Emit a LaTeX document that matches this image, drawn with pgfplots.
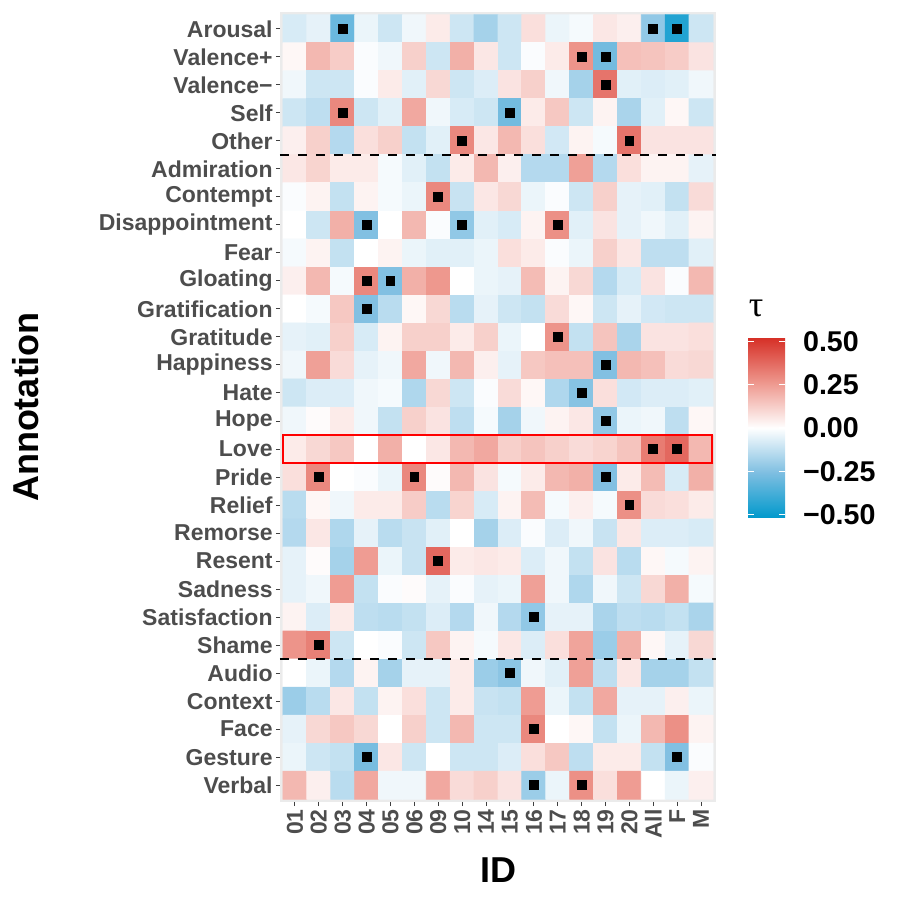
\documentclass[border=0pt]{standalone}
\usepackage{pgfplots}
\pgfplotsset{compat=1.18}
\usepackage{pgfplotstable}
\usepackage{fontspec}
\setmainfont{Liberation Sans}
\newfontfamily\greekserif{Liberation Serif}
\definecolor{lblgrey}{RGB}{77,77,77}
\definecolor{panelgrey}{RGB}{235,235,235}
\pgfplotstableread[row sep=\\]{
x y v\\
0 0 -0.08\\ 1 0 -0.05\\ 2 0 -0.30\\ 3 0 -0.04\\ 4 0 -0.10\\ 5 0 -0.03\\ 6 0 0.05\\ 7 0 -0.10\\ 8 0 -0.18\\ 9 0 -0.10\\ 10 0 0.08\\ 11 0 -0.04\\ 12 0 -0.02\\ 13 0 0.06\\ 14 0 0.04\\ 15 0 -0.22\\ 16 0 -0.45\\ 17 0 -0.10\\
0 1 0.02\\ 1 1 0.18\\ 2 1 0.13\\ 3 1 -0.01\\ 4 1 -0.03\\ 5 1 0.12\\ 6 1 -0.10\\ 7 1 0.20\\ 8 1 0.06\\ 9 1 -0.10\\ 10 1 -0.01\\ 11 1 0.05\\ 12 1 0.27\\ 13 1 -0.28\\ 14 1 0.16\\ 15 1 0.15\\ 16 1 0.13\\ 17 1 0.07\\
0 2 -0.03\\ 1 2 -0.10\\ 2 2 -0.10\\ 3 2 -0.01\\ 4 2 0.05\\ 5 2 -0.06\\ 6 2 0.10\\ 7 2 -0.10\\ 8 2 -0.07\\ 9 2 0.07\\ 10 2 0.12\\ 11 2 -0.03\\ 12 2 -0.18\\ 13 2 0.35\\ 14 2 -0.06\\ 15 2 -0.07\\ 16 2 -0.06\\ 17 2 -0.03\\
0 3 -0.10\\ 1 3 -0.13\\ 2 3 0.30\\ 3 3 -0.10\\ 4 3 -0.06\\ 5 3 0.22\\ 6 3 -0.03\\ 7 3 -0.08\\ 8 3 -0.10\\ 9 3 -0.28\\ 10 3 0.05\\ 11 3 0.14\\ 12 3 -0.10\\ 13 3 0.03\\ 14 3 -0.17\\ 15 3 -0.06\\ 16 3 0.02\\ 17 3 -0.10\\
0 4 0.04\\ 1 4 0.12\\ 2 4 -0.15\\ 3 4 0.08\\ 4 4 0.12\\ 5 4 -0.12\\ 6 4 -0.06\\ 7 4 0.30\\ 8 4 0.06\\ 9 4 0.18\\ 10 4 0.08\\ 11 4 -0.09\\ 12 4 0.03\\ 13 4 -0.02\\ 14 4 0.35\\ 15 4 0.07\\ 16 4 0.07\\ 17 4 0.07\\
0 5 0.06\\ 1 5 0.11\\ 2 5 0.05\\ 3 5 0.05\\ 4 5 -0.02\\ 5 5 -0.06\\ 6 5 -0.12\\ 7 5 0.05\\ 8 5 0.18\\ 9 5 0.04\\ 10 5 -0.15\\ 11 5 -0.15\\ 12 5 0.24\\ 13 5 -0.15\\ 14 5 0.08\\ 15 5 0.03\\ 16 5 0.03\\ 17 5 -0.05\\
0 6 -0.01\\ 1 6 0.03\\ 2 6 -0.12\\ 3 6 0.03\\ 4 6 -0.02\\ 5 6 -0.04\\ 6 6 0.30\\ 7 6 -0.11\\ 8 6 0.06\\ 9 6 0.10\\ 10 6 -0.04\\ 11 6 -0.01\\ 12 6 -0.10\\ 13 6 0.12\\ 14 6 -0.05\\ 15 6 -0.06\\ 16 6 -0.12\\ 17 6 0.09\\
0 7 0.00\\ 1 7 -0.10\\ 2 7 0.20\\ 3 7 -0.25\\ 4 7 0.00\\ 5 7 0.18\\ 6 7 -0.01\\ 7 7 -0.22\\ 8 7 -0.06\\ 9 7 -0.08\\ 10 7 0.03\\ 11 7 0.28\\ 12 7 -0.06\\ 13 7 0.07\\ 14 7 -0.05\\ 15 7 -0.03\\ 16 7 -0.06\\ 17 7 0.03\\
0 8 -0.02\\ 1 8 0.03\\ 2 8 -0.12\\ 3 8 0.00\\ 4 8 0.03\\ 5 8 -0.04\\ 6 8 -0.06\\ 7 8 -0.06\\ 8 8 -0.04\\ 9 8 0.08\\ 10 8 0.05\\ 11 8 -0.01\\ 12 8 -0.04\\ 13 8 0.12\\ 14 8 0.06\\ 15 8 -0.13\\ 16 8 -0.13\\ 17 8 -0.06\\
0 9 0.04\\ 1 9 0.18\\ 2 9 -0.02\\ 3 9 0.30\\ 4 9 -0.25\\ 5 9 0.20\\ 6 9 0.26\\ 7 9 0.00\\ 8 9 -0.04\\ 9 9 -0.05\\ 10 9 0.17\\ 11 9 0.03\\ 12 9 0.10\\ 13 9 -0.15\\ 14 9 -0.08\\ 15 9 0.07\\ 16 9 -0.01\\ 17 9 0.18\\
0 10 0.00\\ 1 10 -0.02\\ 2 10 0.14\\ 3 10 -0.25\\ 4 10 -0.14\\ 5 10 0.02\\ 6 10 0.10\\ 7 10 -0.14\\ 8 10 -0.05\\ 9 10 -0.10\\ 10 10 -0.12\\ 11 10 0.09\\ 12 10 0.02\\ 13 10 -0.10\\ 14 10 -0.05\\ 15 10 -0.09\\ 16 10 -0.10\\ 17 10 -0.10\\
0 11 -0.05\\ 1 11 -0.06\\ 2 11 0.12\\ 3 11 -0.08\\ 4 11 0.03\\ 5 11 0.12\\ 6 11 0.12\\ 7 11 0.05\\ 8 11 0.12\\ 9 11 -0.04\\ 10 11 0.00\\ 11 11 0.27\\ 12 11 -0.12\\ 13 11 0.15\\ 14 11 -0.17\\ 15 11 0.07\\ 16 11 0.07\\ 17 11 0.08\\
0 12 -0.03\\ 1 12 0.24\\ 2 12 0.09\\ 3 12 -0.05\\ 4 12 -0.03\\ 5 12 0.22\\ 6 12 -0.03\\ 7 12 0.18\\ 8 12 0.04\\ 9 12 -0.05\\ 10 12 0.14\\ 11 12 0.16\\ 12 12 0.16\\ 13 12 -0.25\\ 14 12 0.18\\ 15 12 0.16\\ 16 12 0.09\\ 17 12 0.10\\
0 13 -0.10\\ 1 13 -0.07\\ 2 13 -0.07\\ 3 13 -0.03\\ 4 13 -0.02\\ 5 13 -0.16\\ 6 13 0.10\\ 7 13 -0.10\\ 8 13 -0.01\\ 9 13 0.09\\ 10 13 0.02\\ 11 13 -0.16\\ 12 13 -0.24\\ 13 13 0.08\\ 14 13 -0.09\\ 15 13 -0.07\\ 16 13 -0.07\\ 17 13 -0.06\\
0 14 -0.03\\ 1 14 0.01\\ 2 14 0.05\\ 3 14 -0.03\\ 4 14 -0.12\\ 5 14 0.12\\ 6 14 0.07\\ 7 14 -0.13\\ 8 14 -0.02\\ 9 14 -0.18\\ 10 14 -0.03\\ 11 14 0.03\\ 12 14 0.06\\ 13 14 -0.22\\ 14 14 -0.04\\ 15 14 -0.03\\ 16 14 -0.13\\ 17 14 0.02\\
0 15 0.05\\ 1 15 0.10\\ 2 15 0.14\\ 3 15 0.00\\ 4 15 0.20\\ 5 15 0.00\\ 6 15 0.06\\ 7 15 0.18\\ 8 15 0.22\\ 9 15 0.12\\ 10 15 0.15\\ 11 15 0.12\\ 12 15 0.09\\ 13 15 0.11\\ 14 15 0.15\\ 15 15 0.33\\ 16 15 0.38\\ 17 15 0.18\\
0 16 0.08\\ 1 16 0.30\\ 2 16 0.00\\ 3 16 -0.01\\ 4 16 -0.04\\ 5 16 0.30\\ 6 16 0.01\\ 7 16 0.18\\ 8 16 0.07\\ 9 16 -0.02\\ 10 16 0.05\\ 11 16 0.18\\ 12 16 0.20\\ 13 16 -0.25\\ 14 16 0.05\\ 15 16 0.17\\ 16 16 -0.08\\ 17 16 0.20\\
0 17 -0.14\\ 1 17 0.02\\ 2 17 -0.03\\ 3 17 0.05\\ 4 17 0.05\\ 5 17 0.13\\ 6 17 -0.14\\ 7 17 0.11\\ 8 17 -0.08\\ 9 17 0.03\\ 10 17 0.17\\ 11 17 -0.02\\ 12 17 0.04\\ 13 17 -0.02\\ 14 17 0.28\\ 15 17 0.09\\ 16 17 0.08\\ 17 17 0.05\\
0 18 -0.15\\ 1 18 0.06\\ 2 18 -0.16\\ 3 18 -0.05\\ 4 18 -0.14\\ 5 18 -0.11\\ 6 18 -0.06\\ 7 18 0.00\\ 8 18 -0.18\\ 9 18 -0.07\\ 10 18 -0.01\\ 11 18 -0.07\\ 12 18 -0.03\\ 13 18 -0.11\\ 14 18 0.06\\ 15 18 -0.07\\ 16 18 -0.07\\ 17 18 -0.08\\
0 19 -0.05\\ 1 19 0.01\\ 2 19 -0.18\\ 3 19 0.25\\ 4 19 -0.04\\ 5 19 -0.11\\ 6 19 0.38\\ 7 19 0.05\\ 8 19 0.06\\ 9 19 0.05\\ 10 19 -0.07\\ 11 19 -0.03\\ 12 19 -0.12\\ 13 19 0.07\\ 14 19 -0.14\\ 15 19 0.02\\ 16 19 -0.02\\ 17 19 0.03\\
0 20 -0.05\\ 1 20 -0.03\\ 2 20 0.25\\ 3 20 -0.12\\ 4 20 -0.01\\ 5 20 0.01\\ 6 20 -0.05\\ 7 20 -0.01\\ 8 20 -0.05\\ 9 20 -0.04\\ 10 20 0.24\\ 11 20 -0.03\\ 12 20 -0.16\\ 13 20 -0.03\\ 14 20 -0.10\\ 15 20 0.10\\ 16 20 0.20\\ 17 20 -0.02\\
0 21 0.03\\ 1 21 -0.07\\ 2 21 0.05\\ 3 21 -0.13\\ 4 21 -0.14\\ 5 21 -0.12\\ 6 21 -0.07\\ 7 21 -0.15\\ 8 21 -0.03\\ 9 21 -0.15\\ 10 21 -0.22\\ 11 21 -0.05\\ 12 21 -0.05\\ 13 21 -0.17\\ 14 21 -0.13\\ 15 21 -0.14\\ 16 21 -0.12\\ 17 21 -0.17\\
0 22 0.27\\ 1 22 0.32\\ 2 22 -0.10\\ 3 22 0.00\\ 4 22 -0.01\\ 5 22 -0.10\\ 6 22 0.14\\ 7 22 0.03\\ 8 22 -0.02\\ 9 22 0.06\\ 10 22 -0.07\\ 11 22 0.08\\ 12 22 0.23\\ 13 22 -0.20\\ 14 22 0.20\\ 15 22 0.02\\ 16 22 -0.05\\ 17 22 0.10\\
0 23 0.00\\ 1 23 -0.04\\ 2 23 -0.15\\ 3 23 0.03\\ 4 23 -0.18\\ 5 23 -0.05\\ 6 23 -0.05\\ 7 23 0.05\\ 8 23 -0.20\\ 9 23 -0.23\\ 10 23 -0.03\\ 11 23 -0.06\\ 12 23 0.24\\ 13 23 -0.13\\ 14 23 0.06\\ 15 23 -0.18\\ 16 23 -0.18\\ 17 23 -0.12\\
0 24 -0.20\\ 1 24 -0.14\\ 2 24 0.06\\ 3 24 -0.12\\ 4 24 0.03\\ 5 24 0.08\\ 6 24 -0.10\\ 7 24 0.05\\ 8 24 -0.11\\ 9 24 -0.12\\ 10 24 0.25\\ 11 24 -0.04\\ 12 24 -0.12\\ 13 24 0.22\\ 14 24 -0.05\\ 15 24 -0.05\\ 16 24 0.04\\ 17 24 -0.04\\
0 25 -0.05\\ 1 25 0.10\\ 2 25 0.14\\ 3 25 0.10\\ 4 25 0.00\\ 5 25 0.12\\ 6 25 -0.10\\ 7 25 0.18\\ 8 25 -0.10\\ 9 25 -0.10\\ 10 25 0.30\\ 11 25 0.00\\ 12 25 0.02\\ 13 25 -0.12\\ 14 25 -0.04\\ 15 25 0.18\\ 16 25 0.28\\ 17 25 0.03\\
0 26 -0.04\\ 1 26 -0.10\\ 2 26 -0.12\\ 3 26 -0.27\\ 4 26 0.06\\ 5 26 -0.10\\ 6 26 0.00\\ 7 26 -0.10\\ 8 26 -0.10\\ 9 26 -0.07\\ 10 26 0.08\\ 11 26 0.14\\ 12 26 -0.13\\ 13 26 0.05\\ 14 26 0.05\\ 15 26 -0.12\\ 16 26 -0.25\\ 17 26 -0.01\\
0 27 0.18\\ 1 27 0.04\\ 2 27 -0.14\\ 3 27 0.22\\ 4 27 -0.03\\ 5 27 -0.03\\ 6 27 0.22\\ 7 27 0.09\\ 8 27 0.12\\ 9 27 0.07\\ 10 27 -0.20\\ 11 27 -0.04\\ 12 27 0.28\\ 13 27 0.08\\ 14 27 0.25\\ 15 27 0.00\\ 16 27 -0.04\\ 17 27 0.04\\
}\heat
\pgfplotstableread[row sep=\\]{
x y\\
2 0\\ 15 0\\ 16 0\\ 12 1\\ 13 1\\ 13 2\\ 2 3\\ 9 3\\ 7 4\\ 14 4\\ 6 6\\ 3 7\\ 7 7\\ 11 7\\ 3 9\\ 4 9\\ 3 10\\ 11 11\\ 13 12\\ 12 13\\ 13 14\\ 15 15\\ 16 15\\ 1 16\\ 5 16\\ 13 16\\ 14 17\\ 6 19\\ 10 21\\ 1 22\\ 9 23\\ 10 25\\ 3 26\\ 16 26\\ 10 27\\ 12 27\\
}\sig
\begin{document}
\begin{tikzpicture}
\useasboundingbox (0,0) rectangle (450pt,450pt);
\begin{axis}[
  at={(140pt,49pt)}, anchor=south west,
  scale only axis, width=218pt, height=395pt,
  xmin=-0.625, xmax=17.625, ymin=-0.6, ymax=27.6,
  y dir=reverse,
  axis background/.style={fill=panelgrey},
  axis line style={draw=none},
  xtick={0,...,17},
  xticklabels={01,02,03,04,05,06,09,10,14,15,16,17,18,19,20,All,F,M},
  ytick={0,...,27},
  yticklabels={Arousal,Valence+,Valence−,Self,Other,Admiration,Contempt,Disappointment,Fear,Gloating,Gratification,Gratitude,Happiness,Hate,Hope,Love,Pride,Relief,Remorse,Resent,Sadness,Satisfaction,Shame,Audio,Context,Face,Gesture,Verbal},
  xtick pos=left, ytick pos=left,
  tick align=outside, major tick length=2pt,
  tick style={color=black!75, line width=0.5pt},
  xticklabel style={rotate=90, anchor=east, font=\fontsize{11.5}{12}\selectfont\bfseries, text=lblgrey, inner sep=1.5pt},
  yticklabel style={font=\fontsize{11.5}{12}\selectfont\bfseries, text=lblgrey, inner sep=1.5pt},
  xlabel={ID}, ylabel={Annotation},
  xlabel style={font=\fontsize{18}{18}\selectfont\bfseries, at={(axis description cs:0.5,-0.086)}, anchor=center},
  ylabel style={font=\fontsize{18}{18}\selectfont\bfseries, at={(axis description cs:-0.583,0.5)}, anchor=center},
  point meta min=-0.52, point meta max=0.52,
  colormap={tau}{rgb255=(0,153,204) rgb255=(125,190,225) rgb255=(255,255,255) rgb255=(238,152,142) rgb255=(214,48,39)},
  colorbar,
  colorbar/width=18.5pt,
  colorbar style={
    at={(parent axis.north east)}, anchor=north west,
    xshift=7.5pt, yshift=-163pt,
    height=90pt,
    ytick={-0.5,-0.25,0,0.25,0.5},
    yticklabels={−0.50,−0.25,0.00,0.25,0.50},
    yticklabel style={font=\fontsize{14.3}{14.3}\selectfont\bfseries, text=black, xshift=5.5pt},
    axis line style={draw=none},
    tick align=inside, ytick pos=both, yticklabel pos=right,
    major tick length=3pt,
    tick style={draw=white, line width=0.6pt},
  },
]
\addplot[matrix plot*, mesh/cols=18, point meta=explicit] table[x=x, y=y, meta=v] {\heat};
\addplot[only marks, mark=square*, mark size=2.2pt, black] table[x=x, y=y] {\sig};
\draw[black, line width=1pt, dash pattern=on 4.5pt off 4.5pt] (axis cs:-0.625,4.5) -- (axis cs:17.625,4.5);
\draw[black, line width=1pt, dash pattern=on 4.5pt off 4.5pt] (axis cs:-0.625,22.5) -- (axis cs:17.625,22.5);
\draw[red, line width=1pt] (axis cs:-0.5,14.5) rectangle (axis cs:17.45,15.5);
\end{axis}
\node at (378pt,296pt) {\greekserif\fontsize{18}{18}\selectfont τ};
\end{tikzpicture}
\end{document}
